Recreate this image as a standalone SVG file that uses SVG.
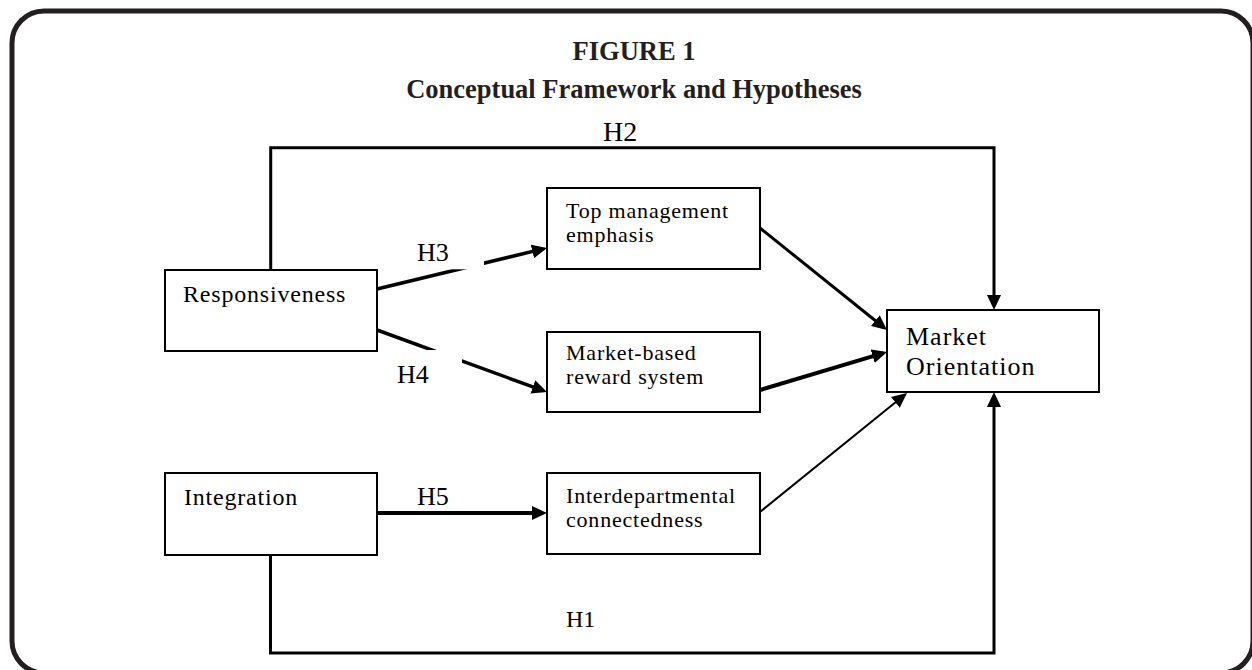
<svg xmlns="http://www.w3.org/2000/svg" width="1252" height="670" viewBox="0 0 1252 670">
  <style>
    .frame { fill: #ffffff; stroke: #231f20; stroke-width: 5; }
    .title { font-family: "Liberation Serif", "Times New Roman", serif; font-weight: bold; font-size: 26.5px; fill: #231f20; text-anchor: middle; }
    .box { fill: #ffffff; stroke: #000000; stroke-width: 2; }
    .lbl { font-family: "Liberation Serif", "Times New Roman", serif; fill: #000000; }
    .big { font-size: 24px; letter-spacing: 0.8px; }
    .mid { font-size: 22px; letter-spacing: 0.8px; }
    .mo { font-size: 26px; letter-spacing: 1px; }
    .hyp { font-family: "Liberation Serif", "Times New Roman", serif; font-size: 26px; fill: #000000; }
    .edge { fill: none; stroke: #000000; stroke-width: 3; stroke-linejoin: miter; }
    .mask { fill: #ffffff; stroke: none; }
  </style>
  <defs>
    <marker id="arrow" markerUnits="userSpaceOnUse" markerWidth="15" markerHeight="15" refX="11" refY="7.5" orient="auto">
      <path d="M0,0.5 L15,7.5 L0,14.5 z" fill="#000000"/>
    </marker>
  </defs>

  <!-- rounded outer frame -->
  <rect class="frame" x="12" y="11" width="1241" height="662" rx="32" ry="32"/>

  <!-- heading -->
  <text class="title" x="634" y="60">FIGURE 1</text>
  <text class="title" x="634" y="98">Conceptual Framework and Hypotheses</text>

  <!-- connectors -->
  <g id="connectors">
    <path id="e-h2" class="edge" d="M270.7,270 V147.7 H994 V306" marker-end="url(#arrow)"/>
    <path id="e-h1" class="edge" d="M270.5,555 V653 H994 V396" marker-end="url(#arrow)"/>
    <path id="e-top-mo" class="edge" d="M760,228 L883.9,327.5" marker-end="url(#arrow)"/>
    <path id="e-rew-mo" class="edge" style="stroke-width:4" d="M760,390 L883.2,353.1" marker-end="url(#arrow)"/>
    <path id="e-int-mo" class="edge" style="stroke-width:2" d="M760,512 L903.9,395.5" marker-end="url(#arrow)"/>
    <path id="e-h3" class="edge" style="stroke-width:3.5" d="M377,289 L543.1,248.9" marker-end="url(#arrow)"/>
    <path id="e-h4" class="edge" style="stroke-width:3.5" d="M377,330 L543.2,390.6" marker-end="url(#arrow)"/>
    <path id="e-h5" class="edge" style="stroke-width:4" d="M377,513 L543,513" marker-end="url(#arrow)"/>
    <!-- label backgrounds that break the H3 / H4 lines -->
    <rect class="mask" x="400" y="225" width="84" height="44.3"/>
    <rect class="mask" x="385" y="350" width="77" height="45"/>
    <text class="hyp" x="603" y="141" style="font-size:28px">H2</text>
    <text class="hyp" x="417" y="261">H3</text>
    <text class="hyp" x="397" y="383">H4</text>
    <text class="hyp" x="417" y="505">H5</text>
    <text class="hyp" x="566" y="627" style="font-size:24px">H1</text>
  </g>

  <!-- nodes -->
  <g id="responsiveness">
    <rect class="box" x="165" y="270" width="212" height="81"/>
    <text class="lbl big" x="183" y="302">Responsiveness</text>
  </g>
  <g id="integration">
    <rect class="box" x="165" y="473" width="212" height="82"/>
    <text class="lbl big" x="184" y="505">Integration</text>
  </g>
  <g id="top-management">
    <rect class="box" x="547" y="188" width="213" height="81"/>
    <text class="lbl mid" x="566" y="218">Top management</text>
    <text class="lbl mid" x="566" y="242">emphasis</text>
  </g>
  <g id="reward-system">
    <rect class="box" x="547" y="332" width="213" height="80"/>
    <text class="lbl mid" x="566" y="360">Market-based</text>
    <text class="lbl mid" x="566" y="384">reward system</text>
  </g>
  <g id="connectedness">
    <rect class="box" x="547" y="473" width="213" height="81"/>
    <text class="lbl mid" x="566" y="503">Interdepartmental</text>
    <text class="lbl mid" x="566" y="527">connectedness</text>
  </g>
  <g id="market-orientation">
    <rect class="box" x="887" y="310" width="212" height="82"/>
    <text class="lbl mo" x="906" y="345">Market</text>
    <text class="lbl mo" x="906" y="375">Orientation</text>
  </g>
</svg>
